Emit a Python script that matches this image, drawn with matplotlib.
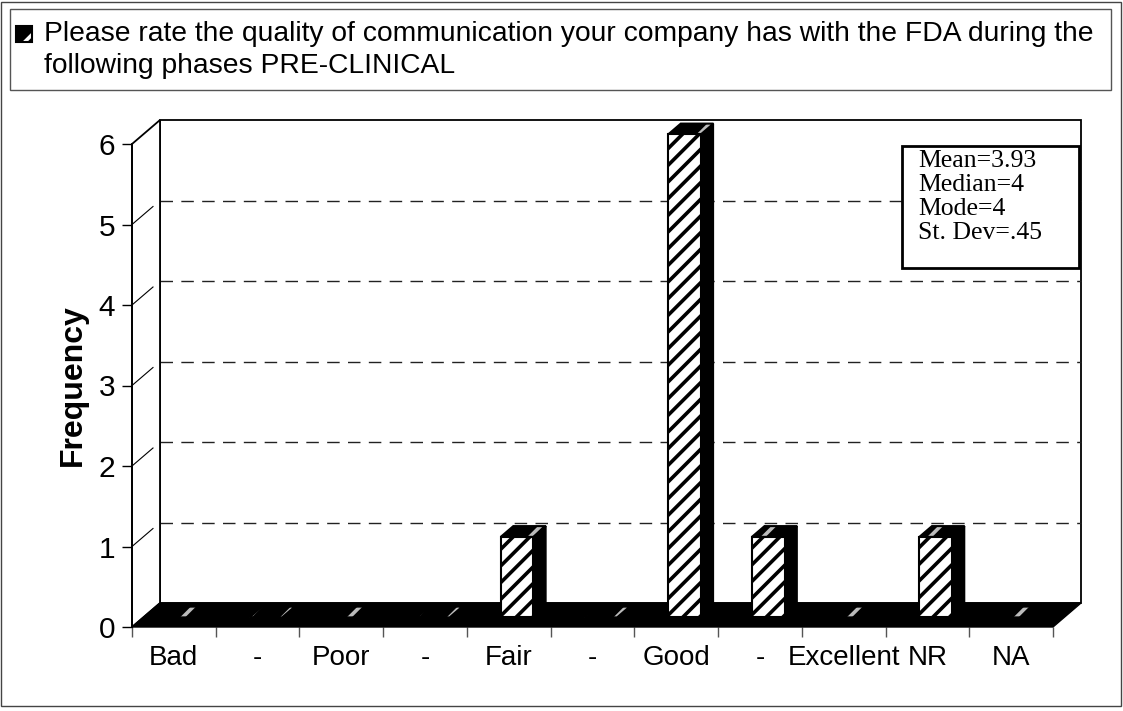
import matplotlib
matplotlib.use("Agg")
import matplotlib.pyplot as plt
from matplotlib.patches import Rectangle, Polygon

# datos del grafico
categories = ['Bad', '-', 'Poor', '-', 'Fair', '-', 'Good', '-', 'Excellent', 'NR', 'NA']
frequency = [0, 0, 0, 0, 1, 0, 6, 1, 0, 1, 0]
y_ticks = [0, 1, 2, 3, 4, 5, 6]
stats_lines = ['Mean=3.93', 'Median=4', 'Mode=4', 'St. Dev=.45']
title_lines = ['Please rate the quality of communication your company has with the FDA during the',
               'following phases PRE-CLINICAL']

plt.rcParams['font.family'] = ['Liberation Sans', 'DejaVu Sans']
plt.rcParams['hatch.linewidth'] = 2.6

W, H = 1123, 711
fig = plt.figure(figsize=(W / 100, H / 100), dpi=100)

# ejes en el plano frontal (pixeles medidos en la referencia)
x0, x1, y0, y1 = 132, 1053, 627, 144
ax = fig.add_axes([x0 / W, 1 - y0 / H, (x1 - x0) / W, (y0 - y1) / H])
n = len(categories)
ymax = max(y_ticks)
ax.set_xlim(0, n)
ax.set_ylim(0, ymax)
ax.patch.set_visible(False)

# profundidad del efecto 3D en unidades de datos
px_x = (x1 - x0) / n
px_y = (y0 - y1) / ymax
DX = 28 / px_x
DY = 24 / px_y

# pared del fondo
back = Rectangle((DX, DY), n, ymax, facecolor='white', edgecolor='black', lw=1.3, clip_on=False, zorder=1)
ax.add_patch(back)
for v in y_ticks[1:-1]:
    ax.plot([DX, n + DX], [v + DY, v + DY], color='#222222', lw=1.0, ls=(0, (9, 6)), clip_on=False, zorder=2)

# pared izquierda
left = Polygon([(0, 0), (0, ymax), (DX, ymax + DY), (DX, DY)], closed=True, facecolor='white',
               edgecolor='black', lw=1.3, clip_on=False, zorder=2)
ax.add_patch(left)
for v in y_ticks[1:-1]:
    ax.plot([0, DX * 0.75], [v, v + DY * 0.75], color='black', lw=0.8, clip_on=False, zorder=3)

# suelo
floor = Polygon([(0, 0), (n, 0), (n + DX, DY), (DX, DY)], closed=True, facecolor='black',
                edgecolor='black', lw=1, clip_on=False, zorder=3)
ax.add_patch(floor)

# barras
f1, f2 = 0.40, 0.85
bl, br = 0.27, 0.66
for i, v in enumerate(frequency):
    xl = i + bl + DX * f1
    xr = i + br + DX * f1
    yb = DY * f1
    ddx = DX * (f2 - f1)
    ddy = DY * (f2 - f1)
    side = Polygon([(xr, yb), (xr + ddx, yb + ddy), (xr + ddx, yb + ddy + v), (xr, yb + v)],
                   closed=True, facecolor='black', edgecolor='black', lw=1, clip_on=False, zorder=4)
    ax.add_patch(side)
    top_pts = [(xl, yb + v), (xr, yb + v), (xr + ddx, yb + ddy + v), (xl + ddx, yb + ddy + v)]
    ax.add_patch(Polygon(top_pts, closed=True, facecolor='black', edgecolor='#bbbbbb', hatch='/',
                         lw=0, clip_on=False, zorder=4))
    ax.add_patch(Polygon(top_pts, closed=True, fill=False, edgecolor='black', lw=1.5,
                         clip_on=False, zorder=5))
    if v > 0:
        ax.add_patch(Rectangle((xl, yb), xr - xl, v, facecolor='white', edgecolor='black', hatch='//',
                               lw=1.5, clip_on=False, zorder=5))

# ejes y etiquetas
ax.spines['top'].set_visible(False)
ax.spines['right'].set_visible(False)
ax.spines['left'].set_linewidth(1.3)
ax.spines['left'].set_zorder(6)
ax.spines['bottom'].set_visible(False)
ax.set_yticks(y_ticks)
ax.tick_params(axis='y', direction='out', length=7, width=1, labelsize=21.5, pad=5)
ax.set_xticks(range(n + 1))
ax.set_xticklabels([])
ax.set_xticks([i + 0.5 for i in range(n)], minor=True)
ax.set_xticklabels(categories, minor=True)
ax.tick_params(axis='x', which='major', direction='out', length=7, width=1, color='#555555')
ax.tick_params(axis='x', which='minor', length=0, labelsize=20, pad=13)
ax.set_ylabel('Frequency', fontsize=23, fontweight='bold', labelpad=8)

# cuadro de estadisticas
bx0, by0, bx1, by1 = 902, 146, 1079, 268
fig.patches.append(Rectangle((bx0 / W, 1 - by1 / H), (bx1 - bx0) / W, (by1 - by0) / H,
                             transform=fig.transFigure, facecolor='white', edgecolor='black',
                             lw=2, zorder=10))
for k, s in enumerate(stats_lines):
    fig.text(918 / W, 1 - (161 + 24 * k) / H, s, fontsize=18.5, family='Liberation Serif',
             va='center', ha='left', zorder=11)

# caja del titulo
fig.patches.append(Rectangle((10 / W, 1 - 90 / H), 1101 / W, 81 / H, transform=fig.transFigure,
                             facecolor='white', edgecolor='#555555', lw=1))
fig.patches.append(Rectangle((16 / W, 1 - 42 / H), 16 / W, 16 / H, transform=fig.transFigure,
                             facecolor='black', edgecolor='white', hatch='/', lw=0, zorder=3))
fig.patches.append(Rectangle((16 / W, 1 - 42 / H), 16 / W, 16 / H, transform=fig.transFigure,
                             fill=False, edgecolor='black', lw=1.5, zorder=4))
for k, s in enumerate(title_lines):
    fig.text(44 / W, 1 - (34 + 32 * k) / H, s, fontsize=20.3, va='center', ha='left')

# marco exterior
fig.patches.append(Rectangle((1 / W, 1 - 706 / H), 1120 / W, 704 / H, transform=fig.transFigure,
                             fill=False, edgecolor='#444444', lw=1))

fig.savefig('out.png', dpi=100)
